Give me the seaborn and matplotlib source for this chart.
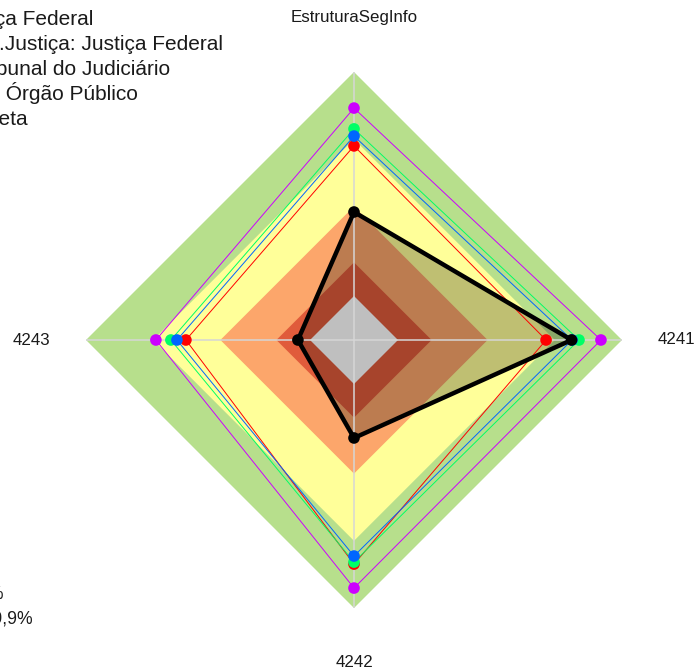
import numpy as np
import pandas as pd
import matplotlib
matplotlib.use("Agg")
import matplotlib.pyplot as plt
import seaborn as sns

# ---------------- data ----------------
axes_labels = ["EstruturaSegInfo", "4241", "4242", "4243"]

series_names = [
    "Média da Justiça Federal",
    "Média do Seg.Justiça: Justiça Federal",
    "Média do Tribunal do Judiciário",
    "Média do Órgão Público",
    "Avaliação Concreta",
]
series_colors = ["#FF0000", "#00FF66", "#0066FF", "#CC00FF", "#000000"]

red_vals = [67.0, 66.1, 80.4, 55.4]
green_vals = [74.6, 80.8, 79.5, 62.1]
blue_vals = [71.4, 77.7, 76.8, 59.4]
purple_vals = [83.9, 90.6, 91.1, 68.8]
black_vals = [37.5, 77.5, 24.1, 5.4]
series_values = [red_vals, green_vals, blue_vals, purple_vals, black_vals]

# maturity bands (upper limits, %) and colours
band_limits = [100, 70, 40, 15]
band_colors = ["#B7DF8C", "#FFFF99", "#FCA66B", "#E05B3B"]
hole_color = "#BFBFBF"

band_legend = ["Aprimorado: 70% a 100%", "Intermediário: 40% a 69,9%"]

# ---------------- figure ----------------
sns.set_theme(style="white")
plt.rcParams["font.family"] = ["Liberation Sans", "DejaVu Sans"]

W, H = 695, 672
fig = plt.figure(figsize=(W / 100, H / 100), dpi=100)
fig.patch.set_facecolor("white")

cx, cy, R = 354, 340, 268
ax = fig.add_axes([(cx - R) / W, (H - cy - R) / H, 2 * R / W, 2 * R / H],
                  projection="polar")
rmin = -19.64
ax.set_ylim(rmin, 100)
ax.set_theta_zero_location("N")
ax.set_theta_direction(-1)
ax.grid(False)
ax.set_xticks([])
ax.set_yticks([])
ax.spines["polar"].set_visible(False)
ax.patch.set_alpha(0)

n = len(axes_labels)
theta = np.linspace(0, 2 * np.pi, n, endpoint=False)
theta_c = np.append(theta, 2 * np.pi)

# bands
for lim, col in zip(band_limits, band_colors):
    ax.fill(theta_c, [lim] * (n + 1), color=col, lw=0, zorder=1)

# filled main series
ax.fill(theta_c, black_vals + black_vals[:1], color="black", alpha=0.25, lw=0, zorder=2)

# grey hole
ax.fill(theta_c, [0] * (n + 1), color=hole_color, lw=0, zorder=3)

# spokes
for t in theta:
    ax.plot([t, t], [rmin, 100], color="#D6D6D6", lw=1.1, zorder=4)

# series lines
for vals, col in zip(series_values, series_colors):
    lw = 3.2 if col == "#000000" else 0.7
    ax.plot(theta_c, vals + vals[:1], color=col, lw=lw, zorder=5)

# points via seaborn
rows = []
for name, vals in zip(series_names, series_values):
    for t, v in zip(theta, vals):
        rows.append({"theta": t, "value": v, "serie": name})
df = pd.DataFrame(rows)
sns.scatterplot(data=df, x="theta", y="value", hue="serie",
                palette=dict(zip(series_names, series_colors)),
                s=70, linewidth=0, legend=False, ax=ax, zorder=6)
ax.set_xlabel("")
ax.set_ylabel("")
ax.set_ylim(rmin, 100)

# axis labels
for t, lab in zip(theta, axes_labels):
    ax.text(t, 124.5, lab, ha="center", va="center", fontsize=12.2,
            color="#1A1A1A", clip_on=False)

# clipped legend (top-left)
legend_right = [93, 223, 170, 138, 28]
for i, (name, xr) in enumerate(zip(series_names, legend_right)):
    fig.text(xr / W, 1 - (25 + 25 * i) / H, name, ha="right", va="baseline",
             fontsize=15, color="#1A1A1A")

# clipped band legend (bottom-left)
for i, (lab, xr) in enumerate(zip(band_legend, [4, 33])):
    fig.text(xr / W, 1 - (599 + 24 * i) / H, lab, ha="right", va="baseline",
             fontsize=12.7, color="#1A1A1A")

fig.savefig("out.png", dpi=100)
